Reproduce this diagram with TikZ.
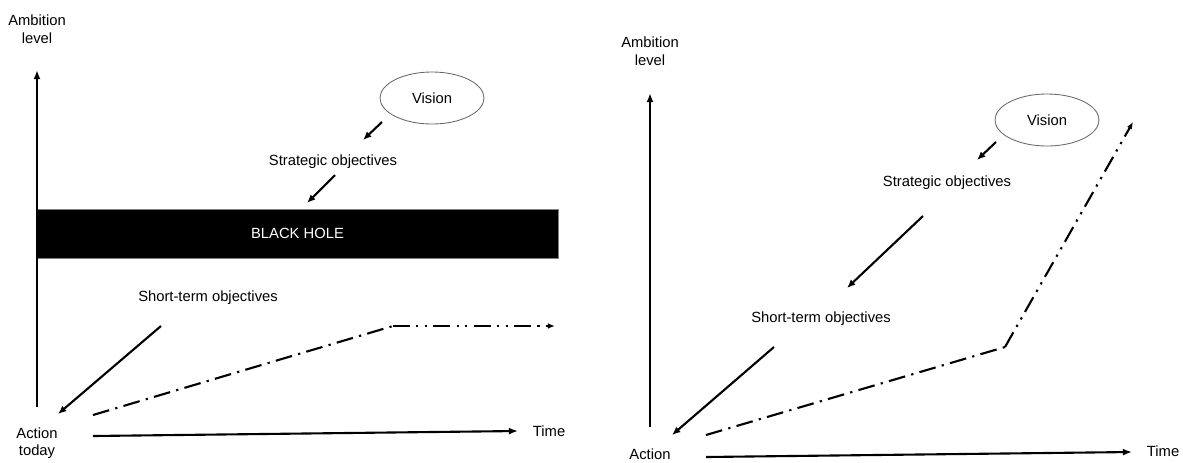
\documentclass[tikz,border=0pt]{standalone}
\usepackage{fontspec}
\setmainfont{Liberation Sans}
\usetikzlibrary{arrows.meta}
\usetikzlibrary{shapes.geometric}

\begin{document}
\begin{tikzpicture}[x=0.025cm, y=-0.025cm,
  font=\fontsize{10.5}{12.5}\selectfont,
  axis/.style={line width=1.5pt, -{Latex[length=6.5pt,width=5pt]}},
  pointer/.style={line width=1.5pt, -{Latex[length=6pt,width=5pt]}},
  dashdot/.style={line width=1.5pt, dash pattern=on 12pt off 4.5pt on 1.6pt off 4.5pt},
  dashdotdot/.style={line width=1.5pt, dash pattern=on 12pt off 4.5pt on 1.6pt off 4.5pt on 1.6pt off 4.5pt,
    -{Latex[length=5pt,width=4pt]}},
  visionbox/.style={ellipse, draw=black!60, semithick, minimum width=2.6cm, minimum height=1.3cm},
  holebox/.style={draw=gray, fill=black, text=white, minimum width=13.02cm, minimum height=1.22cm}]
\useasboundingbox (0,0) rectangle (1183,462);

% left panel
\node[align=center] (ambl) at (37,29) {Ambition\\level};
\node[align=center] (actl) at (37,443) {Action\\today};
\node[visionbox] (visl) at (432,98) {Vision};
\node (stratl) at (333,162) {Strategic objectives};
\node[holebox] (hole) at (297.5,233.5) {BLACK HOLE};
\node (shortl) at (208,298) {Short-term objectives};
\node[anchor=west] (timel) at (528,431) {Time};
\coordinate (yl0) at (37,407);
\coordinate (yl1) at (37,70);
\coordinate (xl0) at (93,436);
\coordinate (xl1) at (518,431);
\coordinate (vl0) at (382,122);
\coordinate (vl1) at (363,140);
\coordinate (sl0) at (335,175);
\coordinate (sl1) at (307,203);
\coordinate (tl0) at (161,326);
\coordinate (tl1) at (58,414);
\coordinate (pl0) at (93,415);
\coordinate (pl1) at (393,326);
\coordinate (pl2) at (555,326);
\draw[axis] (yl0) -- (yl1);
\draw[axis] (xl0) -- (xl1);
\draw[pointer] (vl0) -- (vl1);
\draw[pointer] (sl0) -- (sl1);
\draw[pointer] (tl0) -- (tl1);
\draw[dashdot] (pl0) -- (pl1);
\draw[dashdotdot] (pl1) -- (pl2);

% right panel
\node[align=center] (ambr) at (650,51) {Ambition\\level};
\node[inner sep=1pt] (actr) at (650,454) {Action};
\node[visionbox] (visr) at (1047,120) {Vision};
\node (stratr) at (947,183) {Strategic objectives};
\node (shortr) at (821,319) {Short-term objectives};
\node[anchor=west] (timer) at (1142,451) {Time};
\coordinate (yr0) at (650,427);
\coordinate (yr1) at (650,93);
\coordinate (xr0) at (706,457);
\coordinate (xr1) at (1132,452);
\coordinate (vr0) at (996,142);
\coordinate (vr1) at (977,160);
\coordinate (sr0) at (923,216);
\coordinate (sr1) at (847,288);
\coordinate (tr0) at (774,347);
\coordinate (tr1) at (672,435);
\coordinate (pr0) at (706,435);
\coordinate (pr1) at (1005,347);
\coordinate (pr2) at (1133,122);
\draw[axis] (yr0) -- (yr1);
\draw[axis] (xr0) -- (xr1);
\draw[pointer] (vr0) -- (vr1);
\draw[pointer] (sr0) -- (sr1);
\draw[pointer] (tr0) -- (tr1);
\draw[dashdot] (pr0) -- (pr1);
\draw[dashdotdot] (pr1) -- (pr2);
\end{tikzpicture}
\end{document}
